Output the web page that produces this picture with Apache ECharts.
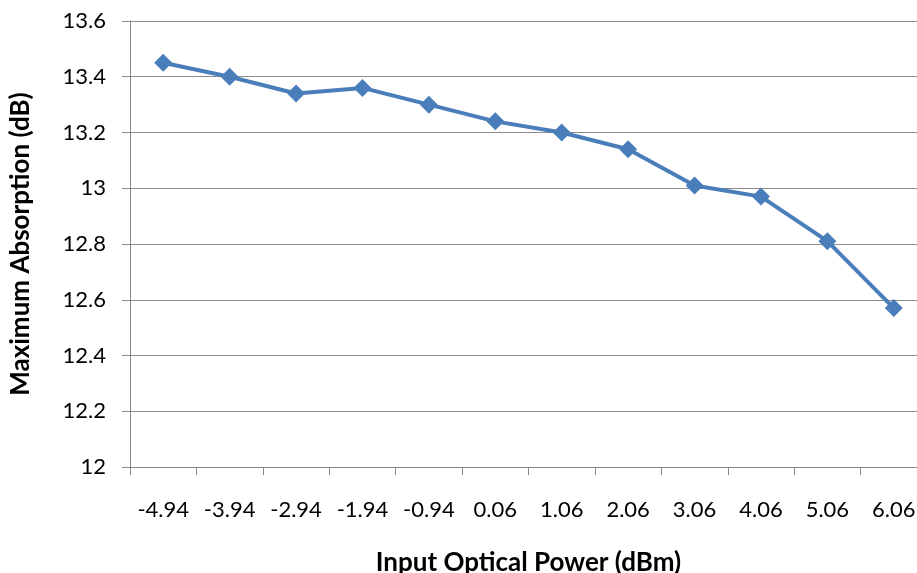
<!DOCTYPE html>
<html><head><meta charset="utf-8">
<script src="https://cdn.jsdelivr.net/npm/echarts@6/dist/echarts.min.js"></script>
<style>html,body{margin:0;padding:0;background:#fff}#c{width:917px;height:573px}</style>
</head><body><div id="c"></div>
<script>
const categories = ['-4.94','-3.94','-2.94','-1.94','-0.94','0.06','1.06','2.06','3.06','4.06','5.06','6.06'];
const absorption = [13.45, 13.40, 13.34, 13.36, 13.30, 13.24, 13.20, 13.14, 13.01, 12.97, 12.81, 12.57];
const chart = echarts.init(document.getElementById('c'), null, {renderer:'canvas'});
const font = 'Lato, "Open Sans", sans-serif';
chart.setOption({
  animation:false,
  grid:{left:130, right:-10, top:21, bottom:106, containLabel:false, outerBoundsMode:'none'},
  xAxis:{type:'category', data:categories, boundaryGap:true,
    name:'Input Optical Power (dBm)', nameLocation:'middle', nameGap:83,
    nameTextStyle:{fontFamily:font, fontSize:26, fontWeight:'bold', color:'#000'},
    axisLine:{lineStyle:{color:'#888', width:1}},
    axisTick:{show:true, length:8, inside:false, lineStyle:{color:'#888'}},
    axisLabel:{fontFamily:font, fontSize:22, color:'#000', margin:32, interval:0},
    splitLine:{show:false}},
  yAxis:{type:'value', min:12, max:13.6, interval:0.2,
    name:'Maximum Absorption (dB)', nameLocation:'middle', nameGap:96, nameRotate:90,
    nameTextStyle:{fontFamily:font, fontSize:26, fontWeight:'bold', color:'#000'},
    axisLine:{show:true, lineStyle:{color:'#888', width:1}},
    axisTick:{show:true, length:8, lineStyle:{color:'#888'}},
    axisLabel:{fontFamily:font, fontSize:22, color:'#000', margin:24,
      formatter:v=>String(Math.round(v*10)/10)},
    splitLine:{show:true, lineStyle:{color:'#8c8c8c', width:1}}},
  series:[{type:'line', data:absorption, symbol:'diamond', symbolSize:18,
    lineStyle:{color:'#4A7EBB', width:4}, itemStyle:{color:'#4A7EBB'}}]
});
</script></body></html>
